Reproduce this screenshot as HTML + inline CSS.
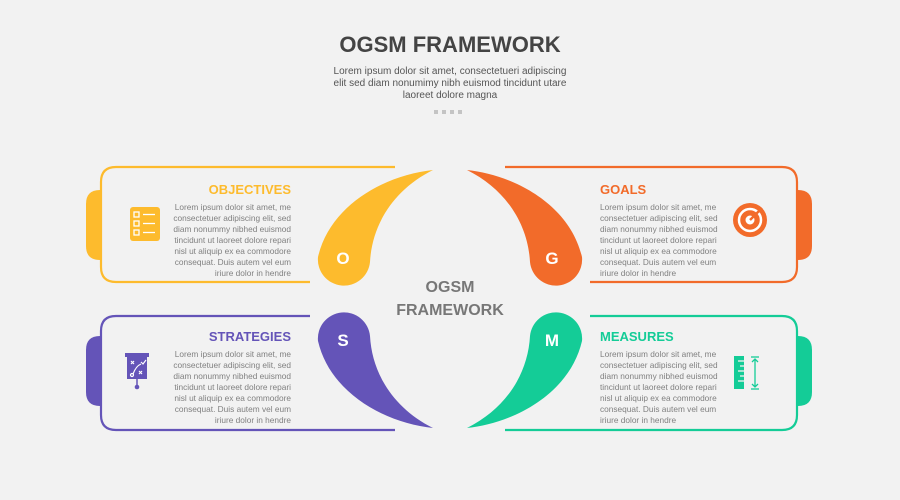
<!DOCTYPE html>
<html><head><meta charset="utf-8"><style>
html,body{margin:0;padding:0;background:#f2f2f2;}
svg{display:block;font-family:"Liberation Sans",sans-serif;}
</style></head><body>
<svg width="900" height="500" viewBox="0 0 900 500" xmlns="http://www.w3.org/2000/svg">
<rect width="900" height="500" fill="#f2f2f2"/>
<text x="450" y="52" text-anchor="middle" font-size="22" font-weight="bold" fill="#444">OGSM FRAMEWORK</text>
<g font-size="10" fill="#555" text-anchor="middle">
<text x="450" y="74">Lorem ipsum dolor sit amet, consectetueri adipiscing</text>
<text x="450" y="86">elit sed diam nonumimy nibh euismod tincidunt utare</text>
<text x="450" y="98">laoreet dolore magna</text>
</g>
<g fill="#c4c4c4"><rect x="434" y="110" width="4" height="4"/><rect x="442" y="110" width="4" height="4"/><rect x="450" y="110" width="4" height="4"/><rect x="458" y="110" width="4" height="4"/></g>

<g fill="none" stroke-width="2.2">
<path d="M395,167 H116 Q101,167 101,182 V267 Q101,282 116,282 H310" stroke="#FDBB2D"/>
<path d="M505,167 H782 Q797,167 797,182 V267 Q797,282 782,282 H590" stroke="#F26B2A"/>
<path d="M310,316 H116 Q101,316 101,331 V415 Q101,430 116,430 H395" stroke="#6454B8"/>
<path d="M590,316 H782 Q797,316 797,331 V415 Q797,430 782,430 H505" stroke="#14CC97"/>
</g>
<path d="M101,190 H100 Q86,190 86,204 V246 Q86,260 100,260 H101 Z" fill="#FDBB2D"/>
<path d="M797,190 H798 Q812,190 812,204 V246 Q812,260 798,260 H797 Z" fill="#F26B2A"/>
<path d="M101,336 H100 Q86,336 86,350 V392 Q86,406 100,406 H101 Z" fill="#6454B8"/>
<path d="M797,336 H798 Q812,336 812,350 V392 Q812,406 798,406 H797 Z" fill="#14CC97"/>

<path d="M433,170 C385,175 330,205 318,257 A26,26 0 0 0 370,262 C372,225 393,190 433,170 Z" fill="#FDBB2D"/>
<g transform="translate(900,0) scale(-1,1)"><path d="M433,170 C385,175 330,205 318,257 A26,26 0 0 0 370,262 C372,225 393,190 433,170 Z" fill="#F26B2A"/></g>
<g transform="translate(0,598) scale(1,-1)"><path d="M433,170 C385,175 330,205 318,257 A26,26 0 0 0 370,262 C372,225 393,190 433,170 Z" fill="#6454B8"/></g>
<g transform="translate(900,598) scale(-1,-1)"><path d="M433,170 C385,175 330,205 318,257 A26,26 0 0 0 370,262 C372,225 393,190 433,170 Z" fill="#14CC97"/></g>
<g font-size="17" font-weight="bold" fill="#fff" text-anchor="middle">
<text x="343" y="264">O</text><text x="552" y="264">G</text>
<text x="343" y="346">S</text><text x="552" y="346">M</text>
</g>
<text x="450" y="292" text-anchor="middle" font-size="16" font-weight="bold" fill="#777">OGSM</text>
<text x="450" y="315" text-anchor="middle" font-size="16" font-weight="bold" fill="#777">FRAMEWORK</text>

<g font-size="13" font-weight="bold">
<text x="291" y="194" text-anchor="end" fill="#FDBB2D">OBJECTIVES</text>
<text x="600" y="194" fill="#F26B2A">GOALS</text>
<text x="291" y="341" text-anchor="end" fill="#6454B8">STRATEGIES</text>
<text x="600" y="341" fill="#14CC97">MEASURES</text>
</g>
<g font-size="8.3" fill="#808080">
<g text-anchor="end">
<text x="291" y="210">Lorem ipsum dolor sit amet, me</text><text x="291" y="221">consectetuer adipiscing elit, sed</text><text x="291" y="232">diam nonummy nibhed euismod</text><text x="291" y="243">tincidunt ut laoreet dolore repari</text><text x="291" y="254">nisl ut aliquip ex ea commodore</text><text x="291" y="265">consequat. Duis autem vel eum</text><text x="291" y="276">iriure dolor in hendre</text>
<text x="291" y="357">Lorem ipsum dolor sit amet, me</text><text x="291" y="368">consectetuer adipiscing elit, sed</text><text x="291" y="379">diam nonummy nibhed euismod</text><text x="291" y="390">tincidunt ut laoreet dolore repari</text><text x="291" y="401">nisl ut aliquip ex ea commodore</text><text x="291" y="412">consequat. Duis autem vel eum</text><text x="291" y="423">iriure dolor in hendre</text>
</g>
<text x="600" y="210">Lorem ipsum dolor sit amet, me</text><text x="600" y="221">consectetuer adipiscing elit, sed</text><text x="600" y="232">diam nonummy nibhed euismod</text><text x="600" y="243">tincidunt ut laoreet dolore repari</text><text x="600" y="254">nisl ut aliquip ex ea commodore</text><text x="600" y="265">consequat. Duis autem vel eum</text><text x="600" y="276">iriure dolor in hendre</text>
<text x="600" y="357">Lorem ipsum dolor sit amet, me</text><text x="600" y="368">consectetuer adipiscing elit, sed</text><text x="600" y="379">diam nonummy nibhed euismod</text><text x="600" y="390">tincidunt ut laoreet dolore repari</text><text x="600" y="401">nisl ut aliquip ex ea commodore</text><text x="600" y="412">consequat. Duis autem vel eum</text><text x="600" y="423">iriure dolor in hendre</text>
</g>

<rect x="130" y="207" width="30" height="34" rx="3" fill="#FDBB2D"/>
<g stroke="#fff" stroke-width="1.3" fill="none">
<rect x="134" y="212" width="5" height="5"/><rect x="134" y="221" width="5" height="5"/><rect x="134" y="230" width="5" height="5"/>
<line x1="143" y1="214.5" x2="155" y2="214.5"/><line x1="143" y1="223.5" x2="155" y2="223.5"/><line x1="143" y1="232.5" x2="155" y2="232.5"/>
</g>
<circle cx="750" cy="220" r="17" fill="#F26B2A"/>
<circle cx="750" cy="220" r="11" fill="none" stroke="#fff" stroke-width="2.5"/>
<circle cx="750" cy="220" r="4.5" fill="#fff"/>
<line x1="750" y1="220" x2="762" y2="208" stroke="#F26B2A" stroke-width="2.5"/>
<rect x="125" y="353" width="24" height="4" fill="#6454B8"/>
<rect x="127" y="357" width="20" height="22" fill="#6454B8"/>
<line x1="137" y1="379" x2="137" y2="386" stroke="#6454B8" stroke-width="1.5"/><circle cx="137" cy="387" r="2.3" fill="#6454B8"/>
<g stroke="#fff" stroke-width="1.2" fill="none"><path d="M131,361 l3,3 m0,-3 l-3,3 M139,371 l3,3 m0,-3 l-3,3 M133,374 q3,-8 8,-10 M141,362 l2,2 l3,-4"/><circle cx="132" cy="375" r="1.5"/></g>
<rect x="734" y="356" width="10" height="33" fill="#14CC97"/>
<g stroke="#f2f2f2" stroke-width="1.3"><line x1="738" y1="361" x2="744" y2="361"/><line x1="740" y1="366" x2="744" y2="366"/><line x1="738" y1="371" x2="744" y2="371"/><line x1="740" y1="376" x2="744" y2="376"/><line x1="738" y1="381" x2="744" y2="381"/></g>
<g stroke="#14CC97" stroke-width="1.3" fill="none"><line x1="751" y1="357" x2="759" y2="357"/><line x1="751" y1="389" x2="759" y2="389"/><line x1="755" y1="359" x2="755" y2="387"/><path d="M752,362 l3,-3 l3,3 M752,384 l3,3 l3,-3"/></g>
</svg>
</body></html>
